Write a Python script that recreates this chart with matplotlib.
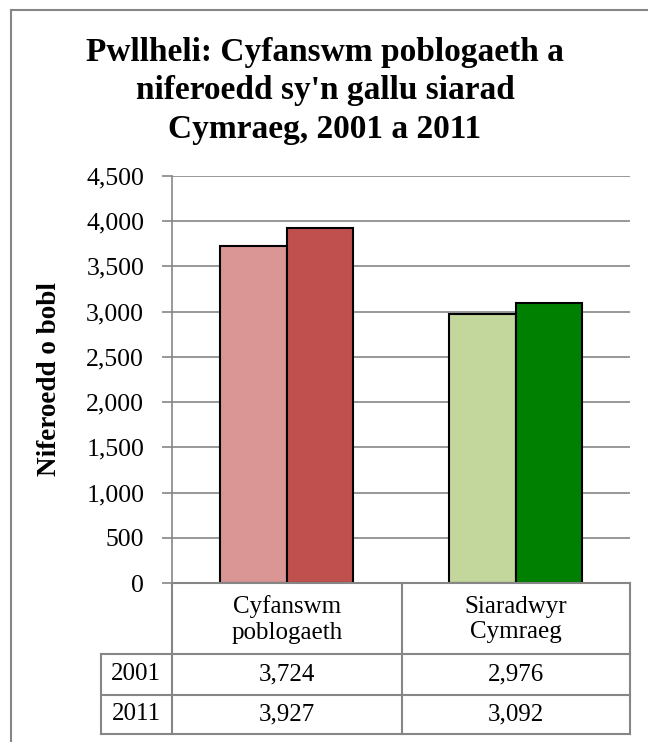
import matplotlib.pyplot as plt
from matplotlib.lines import Line2D
import numpy as np

# data
categories = ["Cyfanswm\npoblogaeth", "Siaradwyr\nCymraeg"]
years = ["2001", "2011"]
values_2001 = [3724, 2976]
values_2011 = [3927, 3092]
colors_2001 = ["#D99694", "#C3D69B"]
colors_2011 = ["#C0504D", "#008000"]
yticks = [0, 500, 1000, 1500, 2000, 2500, 3000, 3500, 4000, 4500]

W, H = 648, 742
fig = plt.figure(figsize=(W / 100, H / 100), dpi=100)
plt.rcParams["font.family"] = ["Liberation Serif", "DejaVu Serif"]

def fx(px):
    return px / W

def fy(py):
    return 1 - py / H

grid_c = "#868686"
fs = 18

# outer chart border (left + top visible)
fig.add_artist(Line2D([fx(11), fx(11)], [fy(10), 0], color=grid_c, lw=1.5))
fig.add_artist(Line2D([fx(11), 1], [fy(10), fy(10)], color=grid_c, lw=1.5))

# plot area
left, right, top, bottom = 172, 630, 176, 583
ax = fig.add_axes([fx(left), fy(bottom), fx(right - left), (bottom - top) / H])
x = np.arange(len(categories))
bw = 0.29
ax.bar(x - bw / 2, values_2001, bw, color=colors_2001, edgecolor="black", lw=1.5, zorder=3)
ax.bar(x + bw / 2, values_2011, bw, color=colors_2011, edgecolor="black", lw=1.5, zorder=3)
ax.set_xlim(-0.5, 1.5)
ax.set_ylim(0, 4500)
ax.set_yticks(yticks)
ax.set_yticklabels([f"{v:,}" for v in yticks], fontsize=18.5)
ax.set_xticks([])
ax.yaxis.grid(True, color=grid_c, lw=1.2, zorder=0)
for s in ["top", "right", "bottom"]:
    ax.spines[s].set_visible(False)
ax.spines["left"].set_color(grid_c)
ax.spines["left"].set_linewidth(1.2)
ax.tick_params(axis="y", length=7, color=grid_c, width=1.2, pad=13)
ax.set_ylabel("Niferoedd o bobl", fontsize=19.5, fontweight="bold")
ax.yaxis.set_label_coords((62 - left) / (right - left), 0.5)

# title
fig.text(fx(325), fy(91), "Pwllheli: Cyfanswm poblogaeth a\nniferoedd sy'n gallu siarad\nCymraeg, 2001 a 2011",
         ha="center", va="center", fontsize=24, fontweight="bold", linespacing=1.3)

# data table
row_y = [583, 654, 695, 734]
col_x = [101, 172, 402, 630]
lk = dict(color=grid_c, lw=1.5)
fig.add_artist(Line2D([fx(172), fx(630)], [fy(583), fy(583)], **lk))
for yy in row_y[1:]:
    fig.add_artist(Line2D([fx(101), fx(630)], [fy(yy), fy(yy)], **lk))
fig.add_artist(Line2D([fx(101), fx(101)], [fy(654), fy(734)], **lk))
for xx in col_x[1:]:
    fig.add_artist(Line2D([fx(xx), fx(xx)], [fy(583), fy(734)], **lk))

for i, cat in enumerate(categories):
    cx = (col_x[i + 1] + col_x[i + 2]) / 2
    fig.text(fx(cx), fy((row_y[0] + row_y[1]) / 2 + 1), cat, ha="center", va="center",
             fontsize=fs, linespacing=1.2)
for r, (yr, vals) in enumerate(zip(years, [values_2001, values_2011])):
    cy = (row_y[r + 1] + row_y[r + 2]) / 2
    fig.text(fx(136), fy(cy), yr, ha="center", va="center", fontsize=fs)
    for i, v in enumerate(vals):
        cx = (col_x[i + 1] + col_x[i + 2]) / 2
        fig.text(fx(cx), fy(cy), f"{v:,}", ha="center", va="center", fontsize=fs)

fig.savefig("out.png", dpi=100)
